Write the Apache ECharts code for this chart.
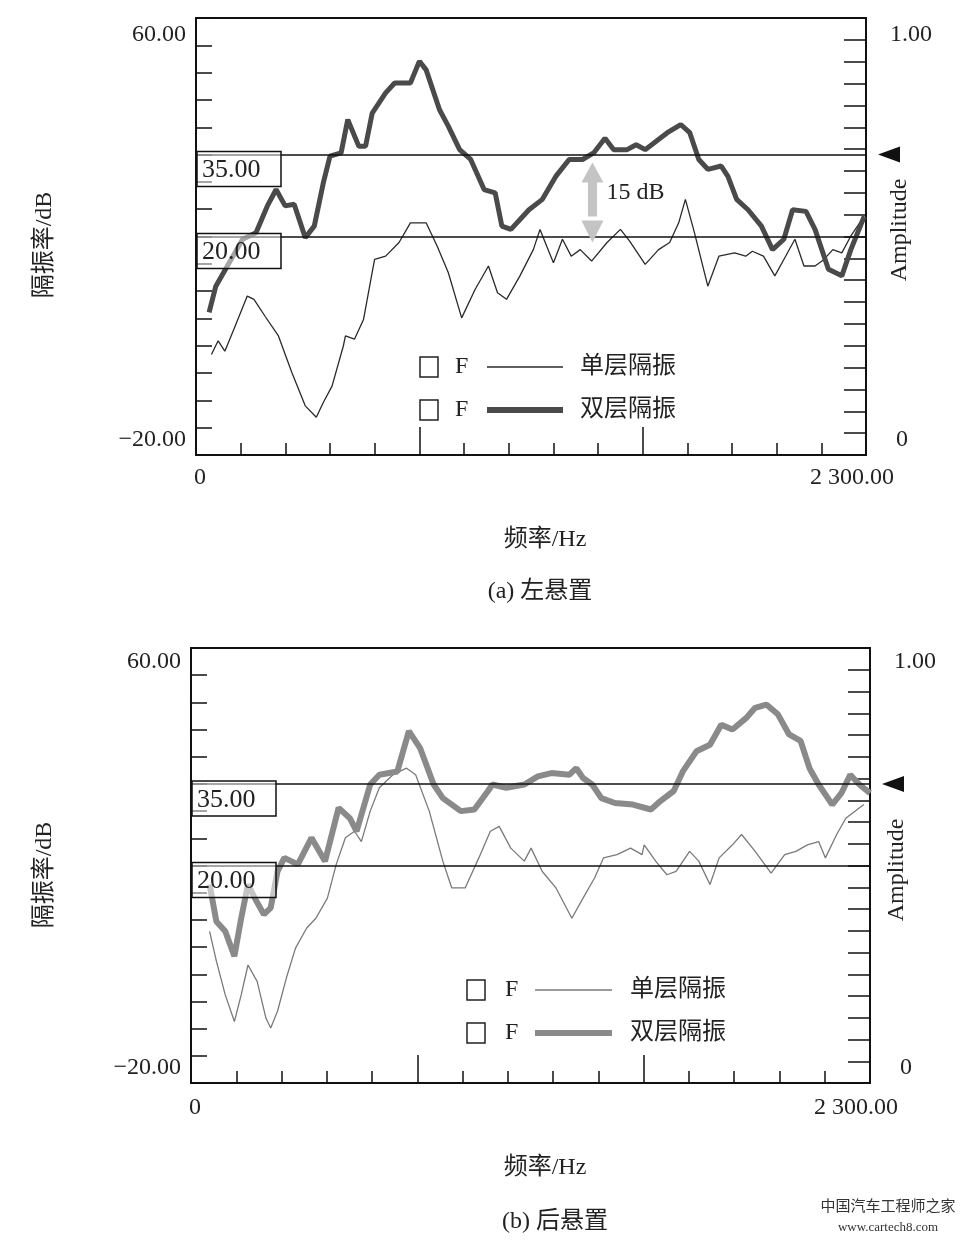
<!DOCTYPE html>
<html><head><meta charset="utf-8">
<script src="https://cdn.jsdelivr.net/npm/echarts@6/dist/echarts.min.js"></script>
<style>html,body{margin:0;padding:0;background:#fff}#c{width:965px;height:1245px}</style>
</head><body><div id="c"></div>
<script>
// ---- data (Hz, dB) ----
const topSingle = [[53,-1.6],[76,0.9],[99,-1],[130,3],[176,9.1],[199,8.5],[237,5.4],[283,1.8],[329,-4.9],[375,-11],[413,-13.1],[437,-10.4],[467,-7.4],[506,0],[513,1.8],[544,1.2],[575,4.8],[613,15.8],[651,16.4],[697,18.9],[736,22.5],[790,22.5],[828,18.2],[866,13.4],[912,5.1],[958,10.3],[1004,14.6],[1035,9.7],[1066,8.5],[1112,12.8],[1158,17.6],[1181,21.3],[1204,18.2],[1227,15.2],[1258,19.5],[1288,16.4],[1319,17.6],[1358,15.5],[1411,18.9],[1457,21.3],[1488,19.2],[1542,14.9],[1588,17.6],[1626,18.9],[1657,22.5],[1680,26.8],[1711,20.7],[1757,10.9],[1795,16.4],[1849,17],[1887,16.4],[1910,17.3],[1948,16.4],[1987,12.8],[2018,15.8],[2056,19.5],[2087,14.6],[2125,14.6],[2156,15.8],[2186,17.6],[2217,17],[2248,20.1],[2286,23.1]];
const topDouble = [[45,6.1],[68,10.9],[114,15.2],[160,19.5],[206,20.7],[245,25.6],[275,28.6],[306,25.6],[337,25.9],[375,19.8],[406,21.9],[437,29.8],[460,34.7],[498,35.3],[521,41.4],[559,36.5],[582,36.5],[605,42.6],[651,46.3],[682,48.1],[736,48.1],[767,52.1],[790,50.5],[836,43.2],[866,40.2],[905,35.9],[943,34.1],[989,28.6],[1027,28],[1050,21.9],[1081,21.3],[1143,24.9],[1189,26.8],[1235,31],[1281,34.1],[1327,34.1],[1365,35.3],[1404,38],[1434,35.9],[1480,35.9],[1511,36.8],[1542,35.9],[1572,37.1],[1618,39],[1664,40.5],[1695,39],[1726,34.1],[1757,32.3],[1803,32.9],[1826,31],[1856,26.8],[1895,24.9],[1941,21.9],[1979,17.6],[2018,19.5],[2048,24.9],[2094,24.6],[2125,21.3],[2171,14],[2217,12.8],[2248,17.6],[2294,23.7]];
const botSingle = [[63,7.9],[86,2.4],[116,-3.8],[147,-8.7],[170,-3.8],[193,1.7],[224,-1.3],[254,-8.1],[270,-9.9],[293,-6.8],[323,-0.7],[354,4.8],[392,8.5],[423,10.3],[462,14],[492,20.2],[523,25.1],[554,26.3],[577,24.4],[607,30],[638,34.3],[684,36.7],[730,37.9],[761,36.7],[807,30],[853,20.8],[883,15.9],[929,15.9],[975,21.4],[1014,26.3],[1044,27.2],[1083,23.2],[1129,20.8],[1152,23.2],[1190,18.9],[1236,15.9],[1290,10.3],[1328,14],[1367,17.7],[1397,21.4],[1443,22],[1489,23.2],[1528,22],[1535,23.8],[1574,20.8],[1612,18.3],[1643,18.9],[1689,22.6],[1720,20.8],[1758,16.5],[1789,21.4],[1834,23.8],[1865,25.7],[1911,22.6],[1965,18.6],[2011,22],[2049,22.6],[2088,23.8],[2126,24.4],[2149,21.4],[2187,25.7],[2218,28.7],[2279,31.2]];
const botDouble = [[63,16.5],[86,9.7],[116,7.9],[147,3.3],[170,10.3],[193,16.5],[216,14],[247,11],[270,12.2],[293,18.9],[316,21.4],[362,20.2],[408,25.1],[454,20.8],[500,30.6],[538,28.7],[561,26.3],[607,34.9],[638,36.7],[699,37.3],[738,44.7],[776,41.6],[822,34.9],[853,32.4],[914,30],[960,30.3],[1006,33.7],[1021,34.9],[1068,34.3],[1129,34.9],[1175,36.4],[1221,37],[1282,36.7],[1305,37.9],[1328,36.1],[1359,34.9],[1390,32.4],[1436,31.5],[1497,31.2],[1558,30.3],[1589,31.8],[1635,33.7],[1666,37.3],[1712,41],[1758,42.2],[1796,45.9],[1834,45],[1880,47.1],[1911,49],[1949,49.6],[1988,47.8],[2026,44.1],[2065,42.9],[2095,37.9],[2126,34.9],[2172,31.2],[2203,33.3],[2233,36.7],[2264,34.9],[2300,33.3]];
const refLevels = [35, 20];
const refLabels = ['35.00', '20.00'];
const seriesNames = ['单层隔振', '双层隔振'];
const yTickLabels = ['60.00', '−20.00'];
const xTickLabels = ['0', '2 300.00'];
const rTickLabels = ['1.00', '0'];
const titles = ['(a) 左悬置', '(b) 后悬置'];

const FF = "'Liberation Serif','DejaVu Serif','Noto Sans CJK SC',serif";
const chart = echarts.init(document.getElementById('c'));
const G = [{left:196,top:18,width:670,height:437},{left:191,top:648,width:679,height:435}];
const grid = G.map(g=>({left:g.left,top:g.top,width:g.width,height:g.height,show:true,borderColor:'#111',borderWidth:2,backgroundColor:'transparent'}));
const xAxis=[], yAxis=[];
G.forEach((g,i)=>{
  xAxis.push({gridIndex:i,type:'value',min:0,max:2300,interval:2300/15,axisLine:{onZero:false,lineStyle:{color:'#111',width:2}},axisTick:{inside:true,length:12,lineStyle:{color:'#111',width:1.5}},axisLabel:{show:false},splitLine:{show:false}});
  xAxis.push({gridIndex:i,type:'value',min:0,max:2300,interval:2300/3,position:'bottom',axisLine:{show:false,onZero:false},axisTick:{inside:true,length:28,lineStyle:{color:'#111',width:1.5}},axisLabel:{show:false},splitLine:{show:false}});
  yAxis.push({gridIndex:i,type:'value',min:-20,max:60,interval:5,axisLine:{onZero:false,lineStyle:{color:'#111',width:2}},axisTick:{inside:true,length:16,lineStyle:{color:'#111',width:1.5}},axisLabel:{show:false},splitLine:{show:false}});
  yAxis.push({gridIndex:i,type:'value',min:0,max:1,interval:0.05,position:'right',axisLine:{onZero:false,lineStyle:{color:'#111',width:2}},axisTick:{inside:true,length:22,lineStyle:{color:'#111',width:1.5}},axisLabel:{show:false},splitLine:{show:false}});
});
const styles = [
  {thin:'#2a2a2a',thinW:1.3,thick:'#4a4a4a',thickW:5},
  {thin:'#7a7a7a',thinW:1.3,thick:'#8a8a8a',thickW:6}
];
const data = [[topSingle,topDouble],[botSingle,botDouble]];
const series=[];
data.forEach((d,i)=>{
  series.push({type:'line',xAxisIndex:2*i,yAxisIndex:2*i,data:d[0],symbol:'none',lineStyle:{color:styles[i].thin,width:styles[i].thinW},silent:true,z:3});
  series.push({type:'line',xAxisIndex:2*i,yAxisIndex:2*i,data:d[1],symbol:'none',lineStyle:{color:styles[i].thick,width:styles[i].thickW},silent:true,z:4,
    markLine:{symbol:'none',silent:true,label:{show:false},lineStyle:{color:'#111',width:1.5,type:'solid'},data:refLevels.map(v=>({yAxis:v}))}});
});
chart.setOption({animation:false,grid,xAxis,yAxis,series});

// ---- text & annotations ----
const gr=[];
const T=(x,y,text,o={})=>gr.push(Object.assign({type:'text',x,y,z:o.z||12,style:Object.assign({text,font:`${o.size||24}px ${FF}`,fill:o.fill||'#222',align:o.align||'left',verticalAlign:o.va||'middle'},o.style||{})},o.rot!==undefined?{rotation:o.rot}:{}));
const conf=[
  {yl:[35,440],xl:478,rl:[35,440],ylab:[45,245],amp:[900,230],fx:545,fy:540,ty:592,tx:540,lx:[420,455,487,563,580],ly:[367,410],arrow:true},
  {yl:[662,1068],xl:1108,rl:[662,1068],ylab:[45,875],amp:[897,870],fx:545,fy:1168,ty:1222,tx:555,lx:[467,505,535,612,630],ly:[990,1033],arrow:false}
];
conf.forEach((c,i)=>{
  const g=G[i];
  T(g.left-10,c.yl[0],yTickLabels[0],{align:'right'});
  T(g.left-10,c.yl[1],yTickLabels[1],{align:'right'});
  T(g.left+4,c.xl,xTickLabels[0],{align:'center'});
  T(g.left+g.width+28,c.xl,xTickLabels[1],{align:'right'});
  T(g.left+g.width+24,c.rl[0],rTickLabels[0],{align:'left'});
  T(g.left+g.width+30,c.rl[1],rTickLabels[1],{align:'left'});
  T(c.ylab[0],c.ylab[1],'隔振率/dB',{align:'center',rot:Math.PI/2});
  T(c.amp[0],c.amp[1],'Amplitude',{align:'center',rot:Math.PI/2});
  T(c.fx,c.fy,'频率/Hz',{align:'center'});
  T(c.tx,c.ty,titles[i],{align:'center'});
  refLevels.forEach((v,k)=>{
    const py=chart.convertToPixel({gridIndex:i},[0,v])[1];
    gr.push({type:'rect',shape:{x:g.left+1,y:py-3,width:84,height:35},style:{fill:'rgba(255,255,255,0.5)',stroke:'#111',lineWidth:1.5},z:10});
    T(g.left+6,py+16,refLabels[k],{size:26});
  });
  const p35=chart.convertToPixel({gridIndex:i},[2300,35]);
  gr.push({type:'polygon',shape:{points:[[p35[0]+12,p35[1]],[p35[0]+34,p35[1]-8],[p35[0]+34,p35[1]+8]]},style:{fill:'#111'},z:10});
  const [bx,fx,l1,l2,tx]=c.lx;
  c.ly.forEach((y,k)=>{
    gr.push({type:'rect',shape:{x:bx,y:y-10,width:18,height:20},style:{fill:'#fff',stroke:'#222',lineWidth:1.5},z:10});
    T(fx,y,'F',{});
    gr.push({type:'line',shape:{x1:l1,y1:y,x2:l2,y2:y},style:{stroke:k?styles[i].thick:styles[i].thin,lineWidth:k?6:1.5},z:10});
    T(tx,y,seriesNames[k],{});
  });
  if(c.arrow){
    const a=chart.convertToPixel({gridIndex:i},[1361,35]), b=chart.convertToPixel({gridIndex:i},[1361,20]);
    const x=a[0];
    gr.push({type:'line',shape:{x1:x,y1:a[1]+22,x2:x,y2:b[1]-20},style:{stroke:'#c4c4c4',lineWidth:9},z:9});
    gr.push({type:'polygon',shape:{points:[[x,a[1]+8],[x-11,a[1]+28],[x+11,a[1]+28]]},style:{fill:'#c4c4c4'},z:9});
    gr.push({type:'polygon',shape:{points:[[x,b[1]+6],[x-11,b[1]-16],[x+11,b[1]-16]]},style:{fill:'#c4c4c4'},z:9});
    T(x+14,(a[1]+b[1])/2-3,'15 dB',{});
  }
});
T(888,1207,'中国汽车工程师之家',{align:'center',size:15,fill:'#333'});
T(888,1228,'www.cartech8.com',{align:'center',size:13,fill:'#333'});
chart.setOption({graphic:gr});
</script></body></html>
